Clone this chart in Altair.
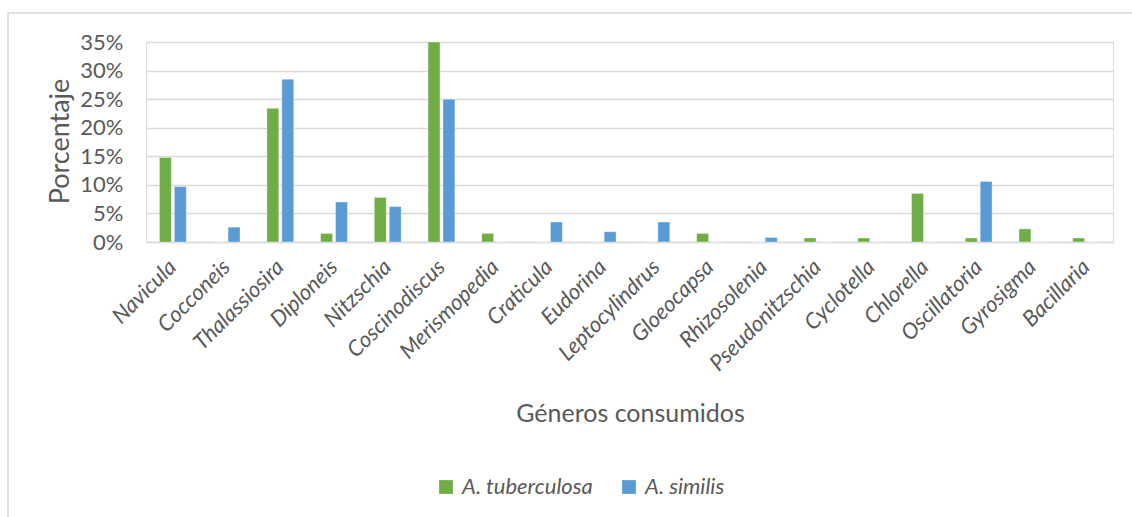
import altair as alt
import pandas as pd

generos = ["Navicula", "Cocconeis", "Thalassiosira", "Diploneis", "Nitzschia",
           "Coscinodiscus", "Merismopedia", "Craticula", "Eudorina", "Leptocylindrus",
           "Gloeocapsa", "Rhizosolenia", "Pseudonitzschia", "Cyclotella", "Chlorella",
           "Oscillatoria", "Gyrosigma", "Bacillaria"]
tuberculosa = [14.8, 0.0, 23.4, 1.5, 7.8, 35.0, 1.5, 0.0, 0.0, 0.0,
               1.5, 0.0, 0.7, 0.7, 8.5, 0.7, 2.3, 0.7]
similis = [9.7, 2.6, 28.5, 7.0, 6.2, 25.0, 0.0, 3.5, 1.8, 3.5,
           0.0, 0.8, 0.0, 0.0, 0.0, 10.6, 0.0, 0.0]
especies = ["A. tuberculosa", "A. similis"]
colores = ["#70AD47", "#5B9BD5"]

rows = []
for g, t, s in zip(generos, tuberculosa, similis):
    rows.append({"genero": g, "especie": especies[0], "valor": t / 100})
    rows.append({"genero": g, "especie": especies[1], "valor": s / 100})
df = pd.DataFrame(rows)

FONT = "Lato"
TXT = "#595959"

bars = alt.Chart(df).mark_bar(stroke="white", strokeWidth=0.6, strokeOpacity=0.6).encode(
    x=alt.X("genero:N", sort=generos,
            scale=alt.Scale(paddingInner=0.5, paddingOuter=0.25),
            axis=alt.Axis(title="Géneros consumidos", labelAngle=-45, labelAlign="right",
                          labelBaseline="middle", labelPadding=21, ticks=False,
                          labelFontStyle="italic", labelFontSize=22, labelColor=TXT,
                          labelFont=FONT, domainColor="#D9D9D9", domainWidth=1.5,
                          titleFont=FONT, titleFontSize=25, titleFontWeight="normal",
                          titleColor=TXT, titleX=484, titleY=171, titleBaseline="middle",
                          titleAlign="center", labelOverlap=False)),
    xOffset=alt.XOffset("especie:N", sort=especies,
                        scale=alt.Scale(paddingInner=0.2, paddingOuter=0)),
    y=alt.Y("valor:Q", scale=alt.Scale(domain=[0, 0.35], nice=False),
            axis=alt.Axis(title="Porcentaje", format=".0%", values=[0, 0.05, 0.1, 0.15, 0.2, 0.25, 0.3, 0.35],
                          ticks=False, domain=False, gridColor="#D9D9D9", gridWidth=1.5,
                          labelFont=FONT, labelFontSize=22, labelColor=TXT, labelPadding=23,
                          titleFont=FONT, titleFontSize=27, titleFontWeight="normal",
                          titleColor=TXT, titleAngle=-90, titleX=-86, titleY=99,
                          titleBaseline="middle", titleAlign="center")),
    color=alt.Color("especie:N", sort=especies,
                    scale=alt.Scale(domain=especies, range=colores),
                    legend=alt.Legend(title=None, orient="none", direction="horizontal",
                                      legendX=289, legendY=434, symbolType="square",
                                      symbolSize=190, symbolStrokeWidth=0, labelFont=FONT,
                                      labelFontSize=22, labelFontStyle="italic",
                                      labelColor=TXT, labelOffset=5, columnPadding=25,
                                      padding=0)),
)

border = alt.Chart(pd.DataFrame({"b": [0]})).mark_rect(
    fill=None, stroke="#D9D9D9", strokeWidth=1.5).encode(
    x=alt.value(8 - 146), x2=alt.value(1145 - 146),
    y=alt.value(13 - 42), y2=alt.value(530 - 42))

chart = alt.layer(border, bars).properties(
    width=967, height=200,
    autosize=alt.AutoSizeParams(type="none"),
    padding={"left": 146, "top": 42, "right": 19, "bottom": 275},
).configure_view(stroke=None).configure(background="white")

chart.save("out.html", embed_options={"renderer": "svg", "actions": False})
